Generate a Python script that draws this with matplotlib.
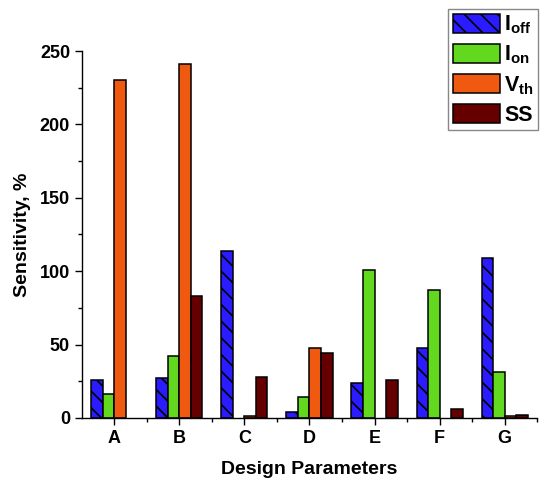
import matplotlib
matplotlib.use("Agg")
import matplotlib.pyplot as plt
import numpy as np
from matplotlib.ticker import MultipleLocator

CATEGORIES = ["A", "B", "C", "D", "E", "F", "G"]
I_OFF = [26, 27, 114, 4, 24, 48, 109]
I_ON = [16, 42, 0, 14, 101, 87, 31]
V_TH = [230, 241, 1, 48, 0, 0, 1]
SS = [0, 83, 28, 44, 26, 6, 2]

SERIES_LABELS = [r"$\mathbf{I_{off}}$", r"$\mathbf{I_{on}}$", r"$\mathbf{V_{th}}$", "SS"]
COLORS = ["#2a1cff", "#62d91e", "#f05a10", "#660000"]
HATCHES = ["\\\\", None, None, None]

plt.rcParams.update({
    "font.family": ["Liberation Sans", "DejaVu Sans"],
    "font.weight": "bold",
    "mathtext.fontset": "custom",
    "mathtext.bf": "Liberation Sans:bold",
    "mathtext.rm": "Liberation Sans:bold",
    "hatch.linewidth": 1.2,
})

fig = plt.figure(figsize=(5.42, 4.86), dpi=100)
ax = fig.add_axes([0.151, 0.140, 0.840, 0.755])

x = np.arange(len(CATEGORIES))
width = 0.177
series = [I_OFF, I_ON, V_TH, SS]
for i, vals in enumerate(series):
    # zero values have no visible bar in the original
    heights = np.where(np.array(vals) > 0, vals, np.nan)
    ax.bar(x + (i - 1.5) * width, heights, width, color=COLORS[i], edgecolor="black",
           linewidth=1.1, hatch=HATCHES[i], label=SERIES_LABELS[i])

ax.set_xlim(-0.5, len(CATEGORIES) - 0.5)
ax.set_ylim(0, 250)
ax.set_xticks(x, CATEGORIES)
ax.set_xticks(x + 0.5, minor=True)
ax.yaxis.set_major_locator(MultipleLocator(50))
ax.yaxis.set_minor_locator(MultipleLocator(25))
ax.tick_params(axis="both", which="major", length=5, width=1, labelsize=13, direction="out")
ax.tick_params(axis="both", which="minor", length=3, width=1, direction="out")
for lab in ax.get_xticklabels() + ax.get_yticklabels():
    lab.set_fontweight("bold")

ax.spines["top"].set_visible(False)
ax.spines["right"].set_visible(False)
ax.spines["left"].set_linewidth(1.0)
ax.spines["bottom"].set_linewidth(1.0)

ax.set_xlabel("Design Parameters", fontsize=14, fontweight="bold", labelpad=10)
ax.set_ylabel("Sensitivity, %", fontsize=14, fontweight="bold", labelpad=6)

fig.legend(loc="upper right", bbox_to_anchor=(0.997, 0.985), fontsize=15.5,
           handlelength=2.2, handleheight=0.95, handletextpad=0.2,
           labelspacing=0.35, borderpad=0.2, borderaxespad=0.1,
           fancybox=False, edgecolor="#888888", framealpha=1)

fig.savefig("out.png", dpi=100)
